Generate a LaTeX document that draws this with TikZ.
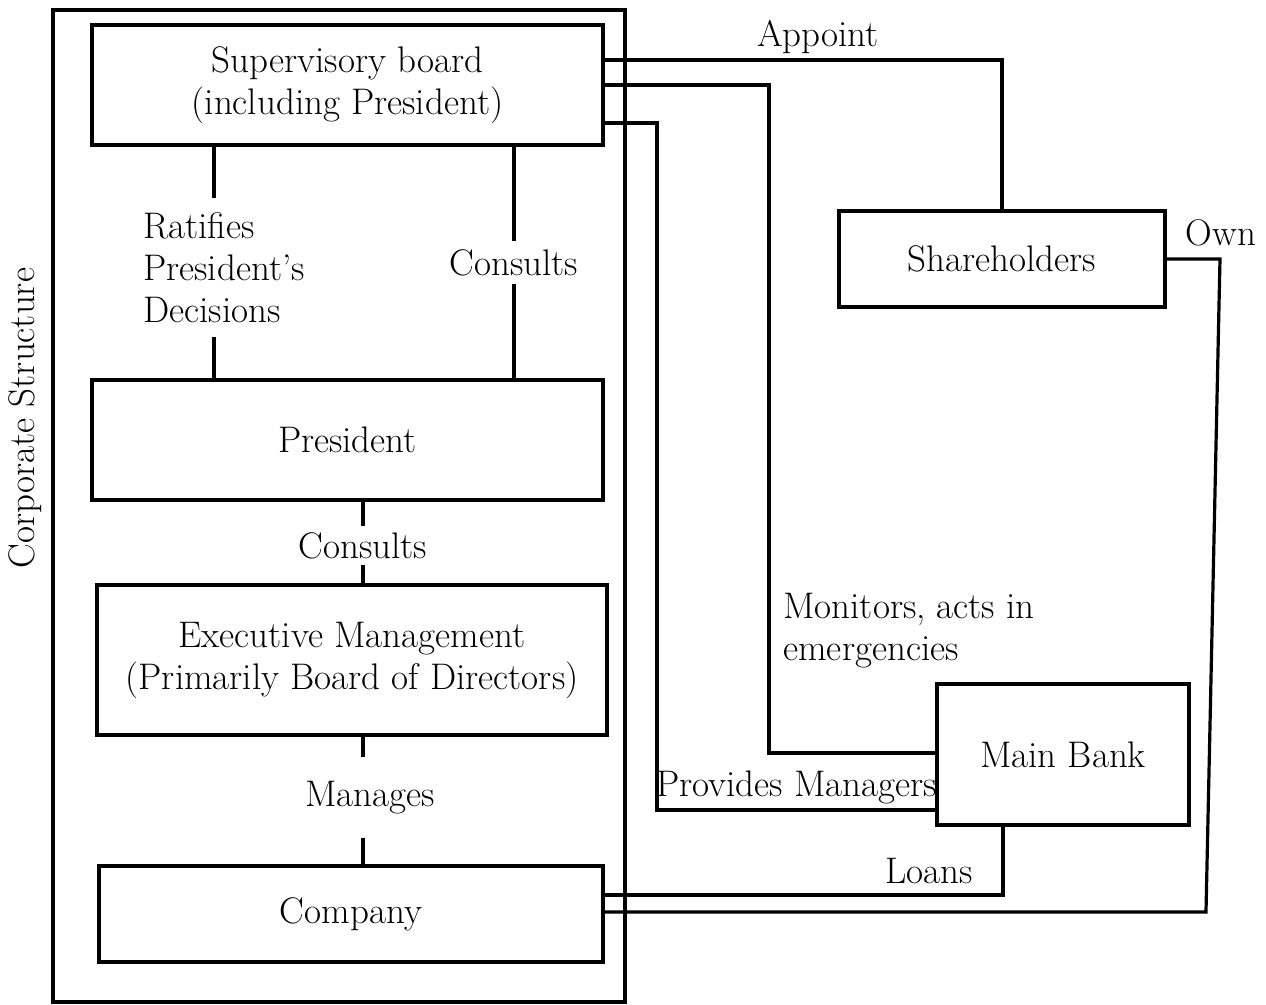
\documentclass[tikz,border=0pt]{standalone}
\usetikzlibrary{positioning}

\begin{document}
\begin{tikzpicture}[x=0.5pt, y=-0.5pt, font=\fontsize{18.5}{21}\selectfont]
    \tikzstyle{b} = [draw, line width=1.6pt, rectangle, inner sep=0pt, align=center]
    \tikzstyle{l} = [draw, line width=1.6pt]
    \tikzstyle{lab} = [fill=white, inner xsep=2pt, align=left]

    \useasboundingbox (0,0) rectangle (1266,1005);

    % frame around the firm itself
    \node [b, minimum width=286pt, minimum height=496pt] (corp) at (339,506) {};
    \node [rotate=90] (corplbl) at (25,418) {Corporate Structure};

    \node [b, minimum width=255.5pt, minimum height=60pt] (sup) at (347.5,85) {Supervisory board\\(including President)};
    \node [b, minimum width=255.5pt, minimum height=60pt] (pres) at (347.5,440) {President};
    \node [b, minimum width=255pt, minimum height=75pt] (exec) at (352,660) {Executive Management\\(Primarily Board of Directors)};
    \node [b, minimum width=252pt, minimum height=48pt] (comp) at (351,914) {Company};

    % outside parties
    \node [b, minimum width=163pt, minimum height=48pt] (share) at (1002,259) {Shareholders};
    \node [b, minimum width=126pt, minimum height=70.5pt] (bank) at (1063,754.5) {Main Bank};

    % links inside the frame
    \draw [l] (sup.south -| 214,0) -- node [lab, inner ysep=7pt, xshift=5pt, yshift=-2.5pt] {Ratifies\\President's\\Decisions} (pres.north -| 214,0);
    \draw [l] (sup.south -| 514,0) -- node [lab, inner ysep=4pt] {Consults} (pres.north -| 514,0);
    \draw [l] (pres.south -| 363,0) -- node [lab, inner ysep=3pt, yshift=-1.5pt] {Consults} (exec.north -| 363,0);
    \draw [l] (exec.south -| 363,0) -- node [lab, inner ysep=12pt, xshift=3.5pt, yshift=1.5pt] {Manages} (comp.north -| 363,0);

    % links to shareholders and bank
    \draw [l] (sup.east |- 0,60) -| (share.north);
    \node (appoint) at (818,37) {Appoint};

    \draw [l] (sup.east |- 0,85) -| (769,753) -- (bank.west |- 0,753);
    \node [align=left, anchor=west, inner sep=0pt] (monitors) at (783,631) {Monitors, acts in\\emergencies};

    \draw [l] (sup.east |- 0,123) -| (657,810) -- (bank.west |- 0,810);
    \node [anchor=west, inner sep=0pt] (provides) at (656,787) {Provides Managers};

    \draw [l] (share.east) -- (1220,259) -- (1206,912) -- (comp.east |- 0,912);
    \node (own) at (1221,233) {Own};

    \draw [l] (bank.south -| 1003,0) -- (1003,895) -- (comp.east |- 0,895);
    \node (loans) at (929,871) {Loans};
\end{tikzpicture}
\end{document}
